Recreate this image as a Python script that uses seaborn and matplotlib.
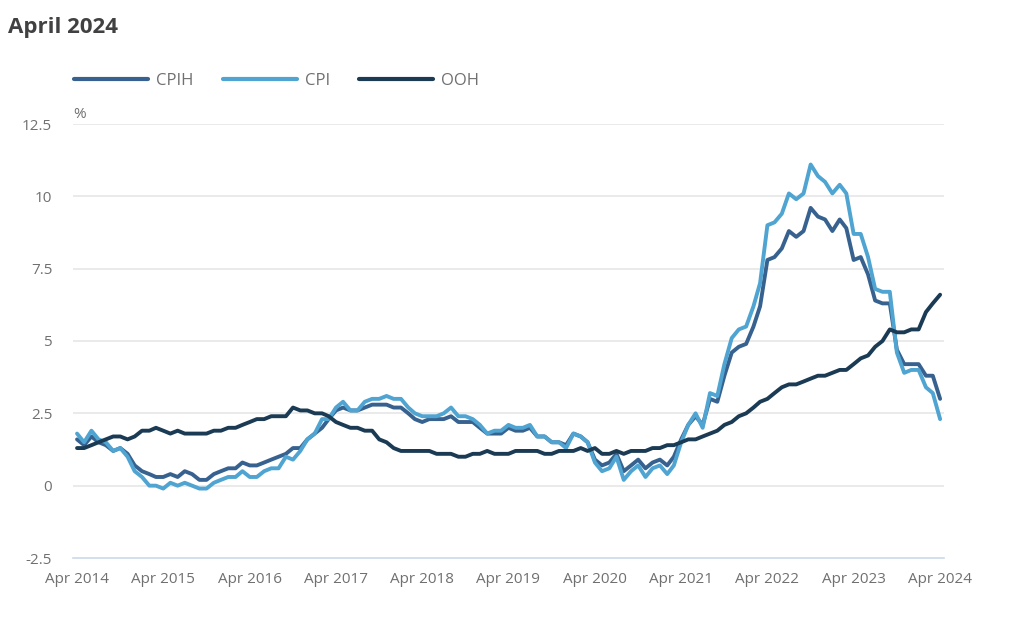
"""
CPIH, CPI and OOH 12-month inflation rates, April 2014 to April 2024.
"""
import matplotlib
matplotlib.use("Agg")
import matplotlib.pyplot as plt
import matplotlib.dates as mdates
import pandas as pd
import seaborn as sns

# monthly values, Apr 2014 .. Apr 2024
cpih = [
    1.6, 1.4, 1.7, 1.5, 1.4, 1.2, 1.3, 1.1, 0.7,
    0.5, 0.4, 0.3, 0.3, 0.4, 0.3, 0.5, 0.4, 0.2, 0.2, 0.4, 0.5,
    0.6, 0.6, 0.8, 0.7, 0.7, 0.8, 0.9, 1.0, 1.1, 1.3, 1.3, 1.6,
    1.8, 2.0, 2.3, 2.6, 2.7, 2.6, 2.6, 2.7, 2.8, 2.8, 2.8, 2.7,
    2.7, 2.5, 2.3, 2.2, 2.3, 2.3, 2.3, 2.4, 2.2, 2.2, 2.2, 2.0,
    1.8, 1.8, 1.8, 2.0, 1.9, 1.9, 2.0, 1.7, 1.7, 1.5, 1.5, 1.4,
    1.8, 1.7, 1.5, 0.9, 0.7, 0.8, 1.1, 0.5, 0.7, 0.9, 0.6, 0.8,
    0.9, 0.7, 1.0, 1.6, 2.1, 2.4, 2.1, 3.0, 2.9, 3.8, 4.6, 4.8,
    4.9, 5.5, 6.2, 7.8, 7.9, 8.2, 8.8, 8.6, 8.8, 9.6, 9.3, 9.2,
    8.8, 9.2, 8.9, 7.8, 7.9, 7.3, 6.4, 6.3, 6.3, 4.7, 4.2, 4.2,
    4.2, 3.8, 3.8, 3.0,
]
cpi = [
    1.8, 1.5, 1.9, 1.6, 1.5, 1.2, 1.3, 1.0, 0.5,
    0.3, 0.0, 0.0, -0.1, 0.1, 0.0, 0.1, 0.0, -0.1, -0.1, 0.1, 0.2,
    0.3, 0.3, 0.5, 0.3, 0.3, 0.5, 0.6, 0.6, 1.0, 0.9, 1.2, 1.6,
    1.8, 2.3, 2.3, 2.7, 2.9, 2.6, 2.6, 2.9, 3.0, 3.0, 3.1, 3.0,
    3.0, 2.7, 2.5, 2.4, 2.4, 2.4, 2.5, 2.7, 2.4, 2.4, 2.3, 2.1,
    1.8, 1.9, 1.9, 2.1, 2.0, 2.0, 2.1, 1.7, 1.7, 1.5, 1.5, 1.3,
    1.8, 1.7, 1.5, 0.8, 0.5, 0.6, 1.0, 0.2, 0.5, 0.7, 0.3, 0.6,
    0.7, 0.4, 0.7, 1.5, 2.1, 2.5, 2.0, 3.2, 3.1, 4.2, 5.1, 5.4,
    5.5, 6.2, 7.0, 9.0, 9.1, 9.4, 10.1, 9.9, 10.1, 11.1, 10.7, 10.5,
    10.1, 10.4, 10.1, 8.7, 8.7, 7.9, 6.8, 6.7, 6.7, 4.6, 3.9, 4.0,
    4.0, 3.4, 3.2, 2.3,
]
ooh = [
    1.3, 1.3, 1.4, 1.5, 1.6, 1.7, 1.7, 1.6, 1.7,
    1.9, 1.9, 2.0, 1.9, 1.8, 1.9, 1.8, 1.8, 1.8, 1.8, 1.9, 1.9,
    2.0, 2.0, 2.1, 2.2, 2.3, 2.3, 2.4, 2.4, 2.4, 2.7, 2.6, 2.6,
    2.5, 2.5, 2.4, 2.2, 2.1, 2.0, 2.0, 1.9, 1.9, 1.6, 1.5, 1.3,
    1.2, 1.2, 1.2, 1.2, 1.2, 1.1, 1.1, 1.1, 1.0, 1.0, 1.1, 1.1,
    1.2, 1.1, 1.1, 1.1, 1.2, 1.2, 1.2, 1.2, 1.1, 1.1, 1.2, 1.2,
    1.2, 1.3, 1.2, 1.3, 1.1, 1.1, 1.2, 1.1, 1.2, 1.2, 1.2, 1.3,
    1.3, 1.4, 1.4, 1.5, 1.6, 1.6, 1.7, 1.8, 1.9, 2.1, 2.2, 2.4,
    2.5, 2.7, 2.9, 3.0, 3.2, 3.4, 3.5, 3.5, 3.6, 3.7, 3.8, 3.8,
    3.9, 4.0, 4.0, 4.2, 4.4, 4.5, 4.8, 5.0, 5.4, 5.3, 5.3, 5.4,
    5.4, 6.0, 6.3, 6.6,
]

series_names = ["CPIH", "CPI", "OOH"]
series_colors = ["#37628f", "#4fa4d1", "#1b3b55"]
y_ticks = [-2.5, 0, 2.5, 5, 7.5, 10, 12.5]
y_labels = ["-2.5", "0", "2.5", "5", "7.5", "10", "12.5"]

months = pd.date_range("2014-04-01", periods=len(cpih), freq="MS")
df = pd.DataFrame({"date": months, "CPIH": cpih, "CPI": cpi, "OOH": ooh})
long_df = df.melt(id_vars="date", var_name="series", value_name="rate")

sns.set_style("white")
plt.rcParams["font.family"] = ["Open Sans", "DejaVu Sans"]

fig = plt.figure(figsize=(10.24, 6.2), dpi=100)
ax = fig.add_axes([0.0713, 0.1, 0.8507, 0.7])

sns.lineplot(data=long_df, x="date", y="rate", hue="series",
             hue_order=series_names, palette=series_colors,
             linewidth=2.8, ax=ax, legend=False)

ax.set_ylim(-2.5, 12.5)
pad = pd.Timedelta(days=17)
ax.set_xlim(months[0] - pad, months[-1] + pad)
ax.set_yticks(y_ticks)
ax.set_yticklabels(y_labels)
ax.set_xticks(months[::12])
ax.xaxis.set_major_formatter(mdates.DateFormatter("%b %Y"))
ax.set_xlabel("")
ax.set_ylabel("")

for y in y_ticks[1:]:
    ax.axhline(y, color="#e6e6e6", linewidth=1.2, zorder=0)

for side in ["top", "right", "left"]:
    ax.spines[side].set_visible(False)
ax.spines["bottom"].set_color("#ccd9ea")
ax.spines["bottom"].set_linewidth(1.2)

ax.tick_params(axis="y", length=0, pad=15, labelsize=11, labelcolor="#707070")
ax.tick_params(axis="x", length=9.5, width=1.2, color="#ccd9ea", pad=0.5,
               labelsize=11, labelcolor="#707070")

ax.text(0.0, 1.004, "%", transform=ax.transAxes, fontsize=11,
        color="#707070", ha="left", va="bottom")

fig.text(0.008, 0.956, "April 2024", fontsize=16, fontweight="bold",
         color="#414042", ha="left", va="center")

handles = [plt.Line2D([], [], color=c, linewidth=3.0) for c in series_colors]
leg = fig.legend(handles, series_names, loc="center left",
                 bbox_to_anchor=(0.0723, 0.869), ncol=3, frameon=False,
                 borderpad=0, borderaxespad=0,
                 handlelength=4.45, handletextpad=0.48, columnspacing=1.75,
                 fontsize=12)
for t in leg.get_texts():
    t.set_color("#707070")

fig.savefig("out.png", dpi=100)
